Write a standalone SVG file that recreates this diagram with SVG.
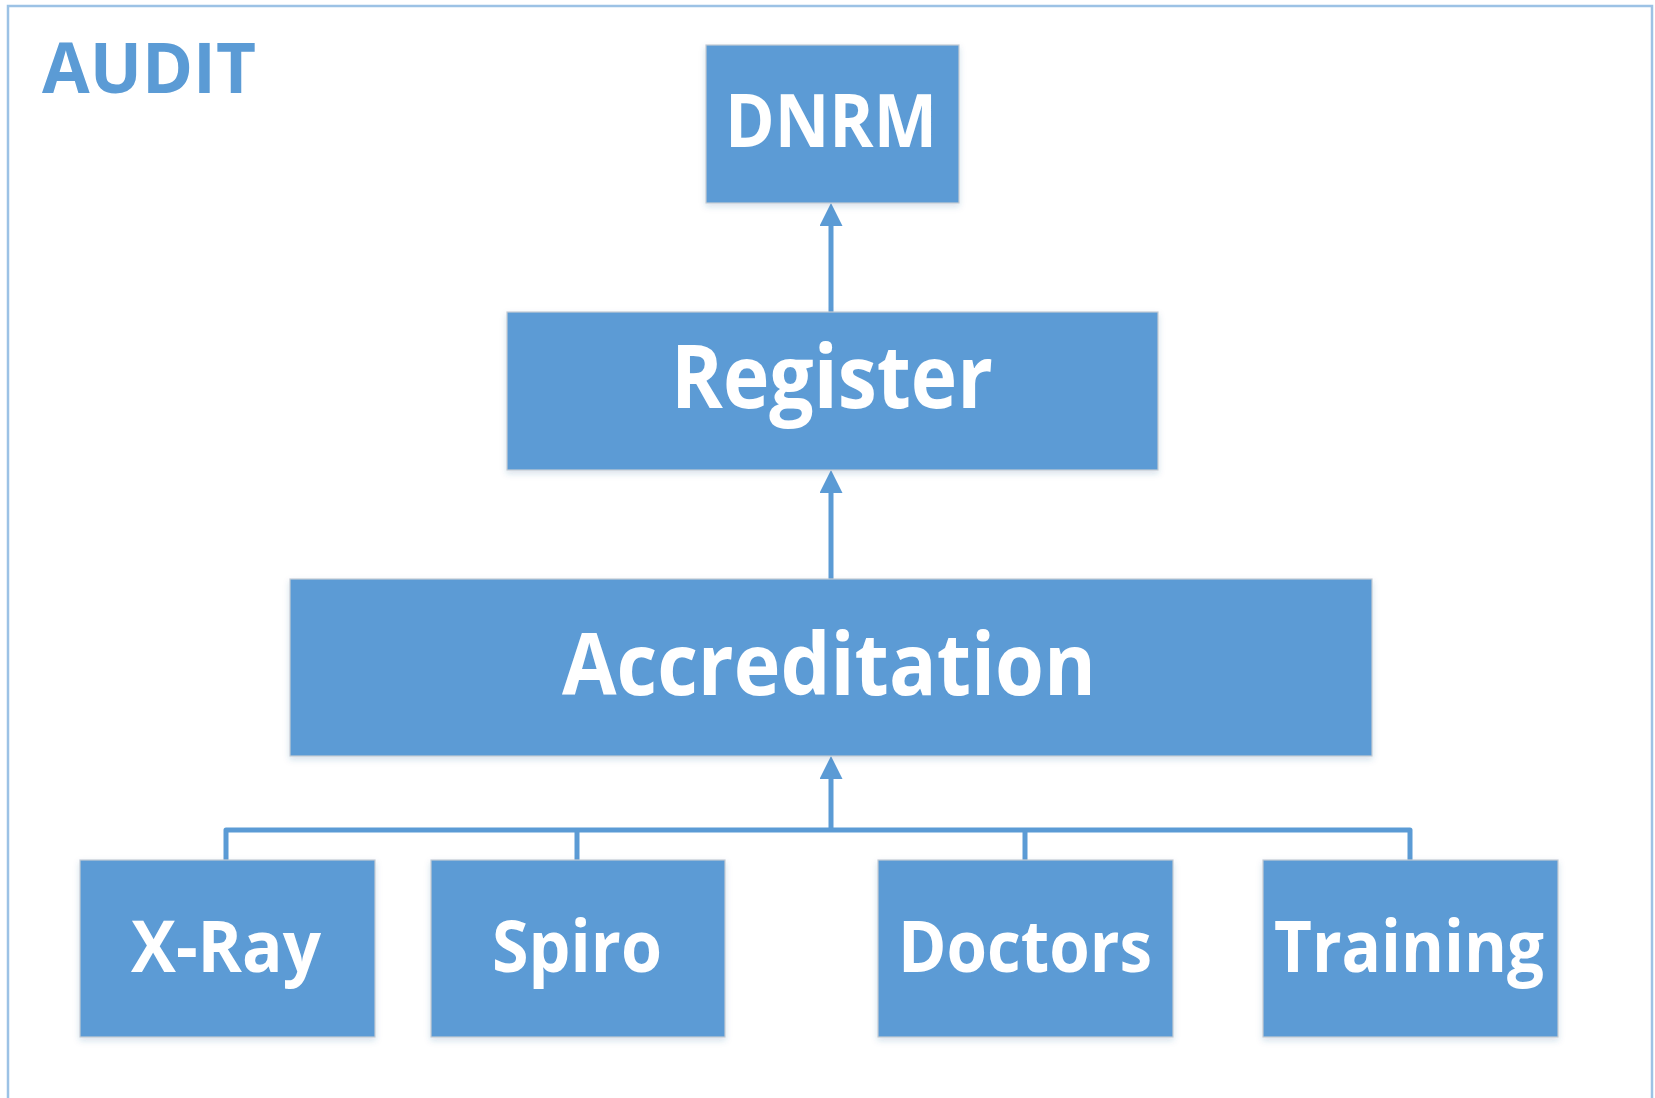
<svg xmlns="http://www.w3.org/2000/svg" width="1655" height="1098" viewBox="0 0 1655 1098">
<style>
.box{fill:#5B9BD5;stroke:#C3CBD4;stroke-width:1.2;filter:url(#sh)}
.lbl{fill:#FFFFFF;font-family:"Open Sans",Lato,"Liberation Sans",sans-serif;font-weight:700;text-anchor:middle;font-variant-ligatures:none}
.con{stroke:#5B9BD5;stroke-width:5;fill:none}
</style>
<defs>
<filter id="sh" x="-10%" y="-10%" width="120%" height="130%">
<feDropShadow dx="0" dy="3" stdDeviation="3" flood-color="#2E5F8F" flood-opacity="0.18"/>
</filter>
<marker id="arr" viewBox="0 0 23 23" refX="0" refY="11.5" markerWidth="23" markerHeight="23" markerUnits="userSpaceOnUse" orient="auto">
<path d="M0,0 L23,11.5 L0,23 z" fill="#5B9BD5"/>
</marker>
</defs>
<rect x="0" y="0" width="1655" height="1098" fill="#FFFFFF"/>
<rect id="frame" x="8" y="6" width="1644" height="1110" fill="#FFFFFF" stroke="#9CC2E5" stroke-width="2.5"/>
<text x="42" y="93" font-family="'Open Sans',Lato,'Liberation Sans',sans-serif" font-weight="700" font-size="70" fill="#5B9BD5" textLength="214" lengthAdjust="spacingAndGlyphs">AUDIT</text>
<g id="connectors">
<line class="con" x1="831" y1="312" x2="831" y2="226" marker-end="url(#arr)"/>
<line class="con" x1="831" y1="580" x2="831" y2="493" marker-end="url(#arr)"/>
<line class="con" x1="831" y1="832" x2="831" y2="779" marker-end="url(#arr)"/>
<polyline class="con" points="226,861 226,830 1410,830 1410,861" stroke-linejoin="round"/>
<line class="con" x1="577" y1="830" x2="577" y2="861"/>
<line class="con" x1="1025" y1="830" x2="1025" y2="861"/>
</g>
<g id="node-dnrm">
<rect class="box" x="706" y="45" width="253" height="158"/>
<text class="lbl" x="831" y="147" font-size="73" textLength="212" lengthAdjust="spacingAndGlyphs">DNRM</text>
</g>
<g id="node-register">
<rect class="box" x="507" y="312" width="651" height="158"/>
<text class="lbl" x="832" y="408" font-size="87" textLength="322" lengthAdjust="spacingAndGlyphs">Register</text>
</g>
<g id="node-accreditation">
<rect class="box" x="290" y="579" width="1082" height="177"/>
<text class="lbl" x="829" y="695" font-size="86" textLength="534" lengthAdjust="spacingAndGlyphs">Accreditation</text>
</g>
<g id="node-xray">
<rect class="box" x="80" y="860" width="295" height="177"/>
<text class="lbl" x="226" y="972" font-size="71" textLength="190" lengthAdjust="spacingAndGlyphs">X-Ray</text>
</g>
<g id="node-spiro">
<rect class="box" x="431" y="860" width="294" height="177"/>
<text class="lbl" x="577" y="972" font-size="71" textLength="170" lengthAdjust="spacingAndGlyphs">Spiro</text>
</g>
<g id="node-doctors">
<rect class="box" x="878" y="860" width="295" height="177"/>
<text class="lbl" x="1025" y="972" font-size="71" textLength="254" lengthAdjust="spacingAndGlyphs">Doctors</text>
</g>
<g id="node-training">
<rect class="box" x="1263" y="860" width="295" height="177"/>
<text class="lbl" x="1409" y="972" font-size="71" textLength="270" lengthAdjust="spacingAndGlyphs">Training</text>
</g>
</svg>
